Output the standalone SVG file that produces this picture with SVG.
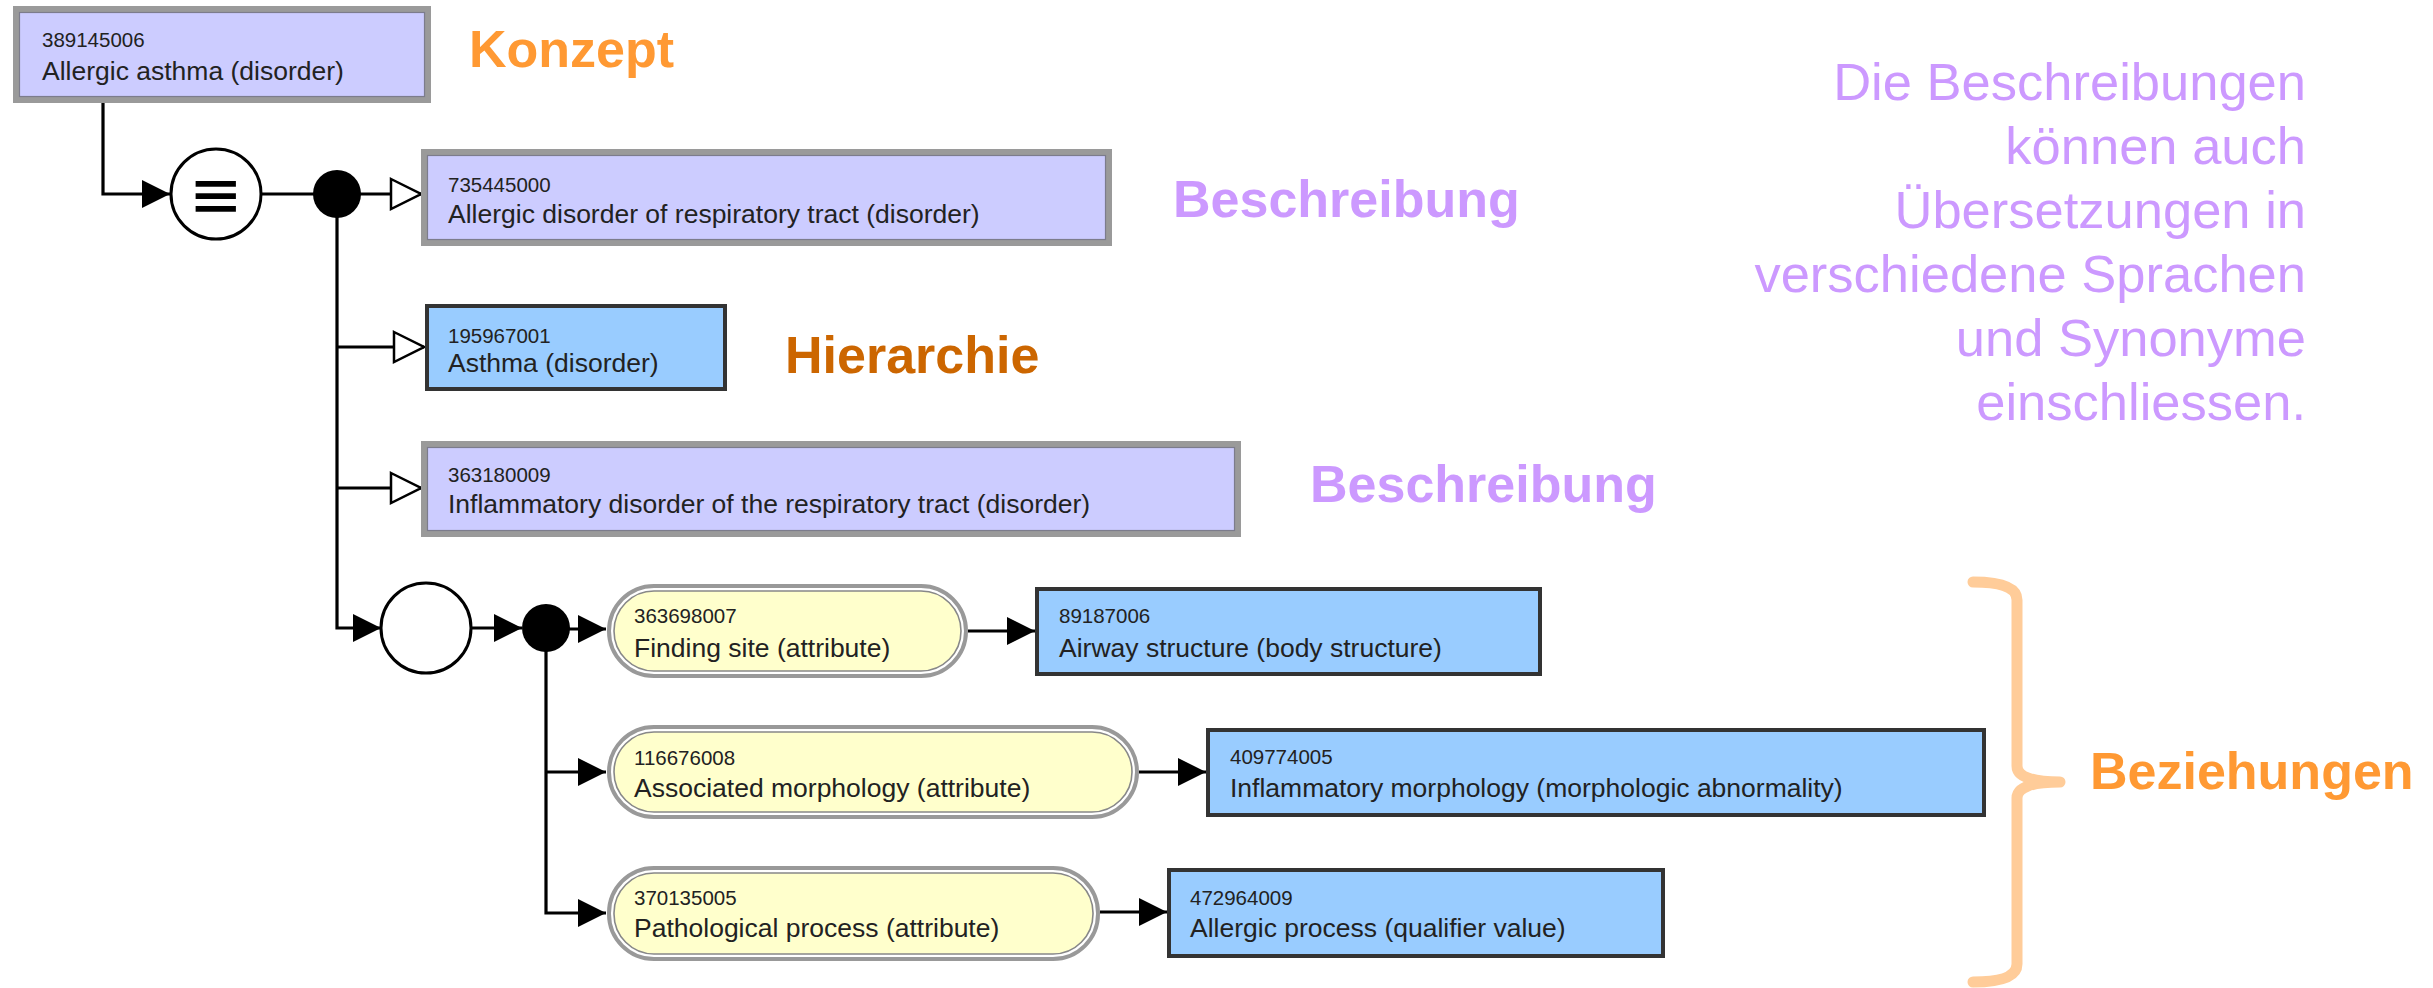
<svg xmlns="http://www.w3.org/2000/svg" width="2433" height="988" viewBox="0 0 2433 988">
  <style>
    .id { font-family: "Liberation Sans", Arial, sans-serif; font-size: 20.5px; fill: #222; }
    .nm { font-family: "Liberation Sans", Arial, sans-serif; font-size: 26.5px; fill: #222; }
    .prim { fill: #ccccff; stroke: #9a9a9a; stroke-width: 6; }
    .prim-in { fill: none; stroke: #7c7c8c; stroke-width: 1.2; }
    .def { fill: #99ccff; stroke: #333; stroke-width: 4; }
    .attr-out { fill: #fff; stroke: #999; stroke-width: 4; }
    .attr-in { fill: #ffffcc; stroke: #888; stroke-width: 1.6; }
    .con { fill: none; stroke: #000; stroke-width: 3.2; }
    .lbl { font-family: "Liberation Sans", Arial, sans-serif; font-size: 52px; font-weight: bold; }
    .note { font-family: "Liberation Sans", Arial, sans-serif; font-size: 52.5px; fill: #cc99ff; text-anchor: end; }
  </style>
  <defs>
    <marker id="open" markerUnits="userSpaceOnUse" viewBox="0 0 34 34" markerWidth="34" markerHeight="34" refX="32" refY="17" orient="auto">
      <path d="M2,2 L32,17 L2,32 Z" fill="#fff" stroke="#000" stroke-width="2.5" stroke-linejoin="miter"/>
    </marker>
    <marker id="fill" markerUnits="userSpaceOnUse" viewBox="0 0 28 28" markerWidth="28" markerHeight="28" refX="28" refY="14" orient="auto">
      <path d="M0,0 L28,14 L0,28 Z" fill="#000"/>
    </marker>
  </defs>

  <rect width="2433" height="988" fill="#fff"/>

  <!-- connectors -->
  <g id="connectors">
    <path class="con" d="M103,103 V194 H170" marker-end="url(#fill)"/>
    <path class="con" d="M261,194 H314"/>
    <path class="con" d="M360,194 H421" marker-end="url(#open)"/>
    <path class="con" d="M337,216 V628 H381" marker-end="url(#fill)"/>
    <path class="con" d="M337,347 H424" marker-end="url(#open)"/>
    <path class="con" d="M337,488 H421" marker-end="url(#open)"/>
    <path class="con" d="M470,628 H522" marker-end="url(#fill)"/>
    <path class="con" d="M569,629 H606" marker-end="url(#fill)"/>
    <path class="con" d="M546,650 V913 H606" marker-end="url(#fill)"/>
    <path class="con" d="M546,772 H606" marker-end="url(#fill)"/>
    <path class="con" d="M968,631 H1035" marker-end="url(#fill)"/>
    <path class="con" d="M1139,772 H1206" marker-end="url(#fill)"/>
    <path class="con" d="M1100,912 H1167" marker-end="url(#fill)"/>
  </g>

  <!-- concept being defined -->
  <g id="concept-389145006">
    <rect class="prim" x="16" y="9" width="412" height="91"/>
    <rect class="prim-in" x="19.5" y="12.5" width="405" height="84"/>
    <text class="id" x="42" y="47">389145006</text>
    <text class="nm" x="42" y="80">Allergic asthma (disorder)</text>
  </g>

  <!-- definition status: equivalent -->
  <g id="definition-status">
    <circle cx="216" cy="194" r="45" fill="#fff" stroke="#000" stroke-width="3"/>
    <text transform="translate(216,194) scale(1.4,1.5)" x="0" y="16" font-family="DejaVu Sans, sans-serif" font-size="46" text-anchor="middle" fill="#000">≡</text>
  </g>
  <g id="conjunction-1">
    <circle cx="337" cy="194" r="24" fill="#000"/>
  </g>

  <g id="parent-735445000">
    <rect class="prim" x="424" y="152" width="685" height="91"/>
    <rect class="prim-in" x="427.5" y="155.5" width="678" height="84"/>
    <text class="id" x="448" y="192">735445000</text>
    <text class="nm" x="448" y="223">Allergic disorder of respiratory tract (disorder)</text>
  </g>

  <g id="parent-195967001">
    <rect class="def" x="427" y="306" width="298" height="83"/>
    <text class="id" x="448" y="343">195967001</text>
    <text class="nm" x="448" y="372">Asthma (disorder)</text>
  </g>

  <g id="parent-363180009">
    <rect class="prim" x="424" y="444" width="814" height="90"/>
    <rect class="prim-in" x="427.5" y="447.5" width="807" height="83"/>
    <text class="id" x="448" y="482">363180009</text>
    <text class="nm" x="448" y="513">Inflammatory disorder of the respiratory tract (disorder)</text>
  </g>

  <!-- relationship group -->
  <g id="group">
    <circle cx="426" cy="628" r="45" fill="#fff" stroke="#000" stroke-width="3"/>
  </g>
  <g id="conjunction-2">
    <circle cx="546" cy="628" r="24" fill="#000"/>
  </g>

  <g id="attr-363698007">
    <rect class="attr-out" x="609" y="586" width="357" height="90" rx="45"/>
    <rect class="attr-in" x="614" y="591" width="347" height="80" rx="40"/>
    <text class="id" x="634" y="623">363698007</text>
    <text class="nm" x="634" y="657">Finding site (attribute)</text>
  </g>
  <g id="value-89187006">
    <rect class="def" x="1037" y="589" width="503" height="85"/>
    <text class="id" x="1059" y="623">89187006</text>
    <text class="nm" x="1059" y="657">Airway structure (body structure)</text>
  </g>

  <g id="attr-116676008">
    <rect class="attr-out" x="609" y="727" width="528" height="90" rx="45"/>
    <rect class="attr-in" x="614" y="732" width="518" height="80" rx="40"/>
    <text class="id" x="634" y="765">116676008</text>
    <text class="nm" x="634" y="797">Associated morphology (attribute)</text>
  </g>
  <g id="value-409774005">
    <rect class="def" x="1208" y="730" width="776" height="85"/>
    <text class="id" x="1230" y="764">409774005</text>
    <text class="nm" x="1230" y="797">Inflammatory morphology (morphologic abnormality)</text>
  </g>

  <g id="attr-370135005">
    <rect class="attr-out" x="609" y="868" width="489" height="91" rx="45"/>
    <rect class="attr-in" x="614" y="873" width="479" height="81" rx="40"/>
    <text class="id" x="634" y="905">370135005</text>
    <text class="nm" x="634" y="937">Pathological process (attribute)</text>
  </g>
  <g id="value-472964009">
    <rect class="def" x="1169" y="870" width="494" height="86"/>
    <text class="id" x="1190" y="905">472964009</text>
    <text class="nm" x="1190" y="937">Allergic process (qualifier value)</text>
  </g>

  <!-- annotations -->
  <g id="annotations">
    <text class="lbl" x="469" y="67" fill="#ff9933">Konzept</text>
    <text class="lbl" x="1173" y="217" fill="#cc99ff">Beschreibung</text>
    <text class="lbl" x="785" y="373" fill="#cc6600">Hierarchie</text>
    <text class="lbl" x="1310" y="502" fill="#cc99ff">Beschreibung</text>
    <text class="lbl" x="2090" y="789" fill="#ff9933">Beziehungen</text>
    <path d="M1973,582 Q2017,582 2017,600 V766 Q2017,782 2060,782 Q2017,782 2017,798 V964 Q2017,982 1973,982" fill="none" stroke="#ffcc99" stroke-width="11" stroke-linecap="round" stroke-linejoin="round"/>
    <text class="note" x="2306" y="100">Die Beschreibungen</text>
    <text class="note" x="2306" y="164">können auch</text>
    <text class="note" x="2306" y="228">Übersetzungen in</text>
    <text class="note" x="2306" y="292">verschiedene Sprachen</text>
    <text class="note" x="2306" y="356">und Synonyme</text>
    <text class="note" x="2306" y="420">einschliessen.</text>
  </g>
</svg>
